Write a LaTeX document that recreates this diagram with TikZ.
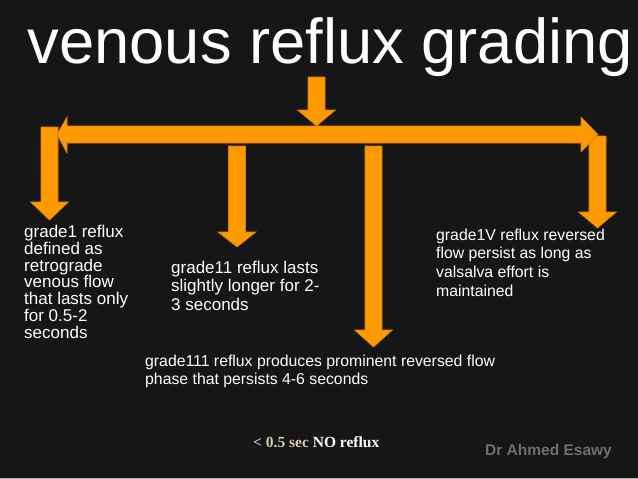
\documentclass[tikz,border=0pt]{standalone}
\usepackage{fontspec}
\setmainfont{Liberation Sans}
\newfontfamily\timesbold{Liberation Serif}
\definecolor{bgdark}{HTML}{161616}
\definecolor{arroworange}{HTML}{FF9900}
\definecolor{arrowedge}{HTML}{D68000}
\definecolor{tangray}{HTML}{D6CCB4}
\definecolor{signgray}{HTML}{6E6E6E}
\begin{document}
\begin{tikzpicture}[x=1pt, y=-1pt,
    blockarrow/.style={fill=arroworange, draw=arrowedge, line width=0.6pt, line join=miter},
    gradetext/.style={text=white, inner sep=0pt, anchor=north west, align=left}]
    % Parameters
    \def\shaft{8.5}
    \def\head{19}
    % down block arrow: centre x, top y, head base y, tip y
    \def\downblk#1#2#3#4{%
      \draw[blockarrow] ({#1-\shaft},#2) -- ({#1+\shaft},#2) -- ({#1+\shaft},#3)
        -- ({#1+\head},#3) -- (#1,#4) -- ({#1-\head},#3) -- ({#1-\shaft},#3) -- cycle;}

    % Background
    \useasboundingbox (0,0) rectangle (638,479);
    \fill[bgdark] (0,0) rectangle (638,479);
    \fill[gray!60] (0,477.5) rectangle (638,479);

    % Title
    \node[anchor=base west, inner sep=0pt, text=white,
      font=\fontsize{63.3}{64}\selectfont] (title) at (27.5,63) {venous reflux grading};

    % Outer arrows (under the bar)
    \downblk{49.5}{127}{202}{220}
    \downblk{597.5}{136}{212}{228}

    % Horizontal double arrow
    \draw[blockarrow] (67,126) -- (581,126) -- (581,117) -- (598,134.5) -- (581,152)
      -- (581,143) -- (67,143) -- (67,153) -- (57,134.5) -- (67,117) -- cycle;

    % Inner arrows
    \downblk{237}{146}{232}{247}
    \downblk{373.5}{146}{330}{347}

    % Arrow from the title
    \downblk{316.5}{77}{110}{126}

    % Grades
    \node[gradetext, font=\fontsize{17}{16.8}\selectfont] (gradeone) at (24,225)
      {grade1 reflux\\defined as\\retrograde\\venous flow\\that lasts only\\for 0.5-2\\seconds};
    \node[gradetext, font=\fontsize{17}{18.5}\selectfont] (gradetwo) at (171,260.5)
      {grade11 reflux lasts\\slightly longer for 2-\\3 seconds};
    \node[gradetext, font=\fontsize{15.8}{18}\selectfont] (gradethree) at (145,354.5)
      {grade111 reflux produces prominent reversed flow\\phase that persists 4-6 seconds};
    \node[gradetext, font=\fontsize{15.8}{18.7}\selectfont] (gradefour) at (436,228.5)
      {grade1V reflux reversed\\flow persist as long as\\valsalva effort is\\maintained};

    % Footer
    \node[anchor=base west, inner sep=0pt, font=\timesbold\bfseries\fontsize{15.5}{16}\selectfont]
      (noreflux) at (253,447) {\textcolor{tangray}{< 0.5 sec} \textcolor{white}{NO reflux}};
    \node[anchor=base west, inner sep=0pt, text=signgray, font=\bfseries\fontsize{15.5}{16}\selectfont]
      (author) at (485,455) {Dr Ahmed Esawy};
  \end{tikzpicture}
\end{document}
